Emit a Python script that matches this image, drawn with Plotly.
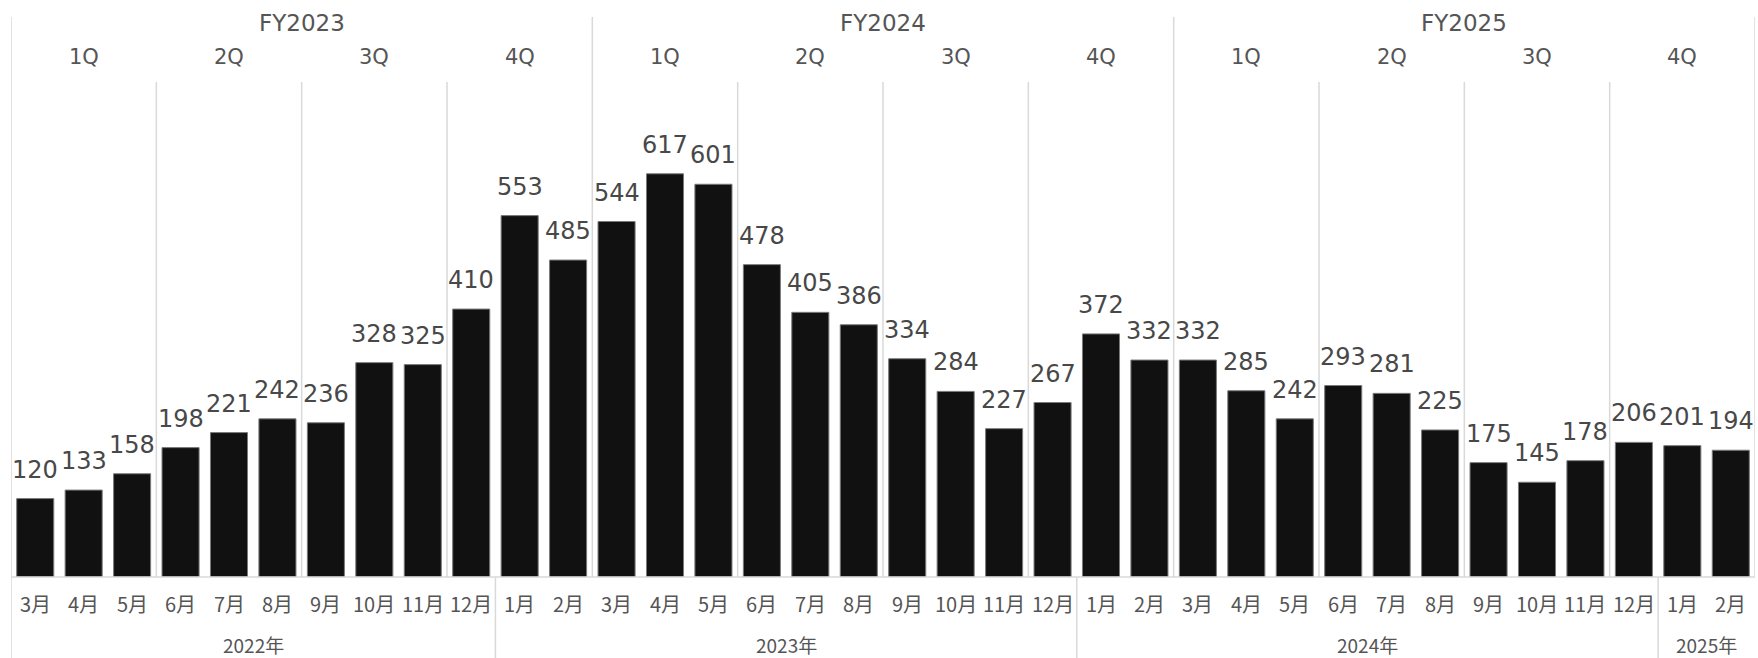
import plotly.graph_objects as go

# Monthly counts, March 2022 through February 2025
months = ["3月", "4月", "5月", "6月", "7月", "8月", "9月", "10月", "11月", "12月",
          "1月", "2月", "3月", "4月", "5月", "6月", "7月", "8月", "9月", "10月", "11月", "12月",
          "1月", "2月", "3月", "4月", "5月", "6月", "7月", "8月", "9月", "10月", "11月", "12月",
          "1月", "2月"]
values = [120, 133, 158, 198, 221, 242, 236, 328, 325, 410,
          553, 485, 544, 617, 601, 478, 405, 386, 334, 284, 227, 267,
          372, 332, 332, 285, 242, 293, 281, 225, 175, 145, 178, 206,
          201, 194]

# Calendar years: label and number of months in each
years = ["2022年", "2023年", "2024年", "2025年"]
year_counts = [10, 12, 12, 2]

# Fiscal years (starting in March) and their quarters
fiscal_years = ["FY2023", "FY2024", "FY2025"]
quarters = ["1Q", "2Q", "3Q", "4Q"]

W, H = 1758, 658
TOP, BOTTOM = 82, 81
plot_h = H - TOP - BOTTOM
axis_y = H - BOTTOM


def py(pixel_y):
    """Convert a page pixel row into paper y."""
    return (axis_y - pixel_y) / plot_h


x = list(range(len(values)))
n = len(values)

fig = go.Figure()
fig.add_trace(go.Bar(
    x=x, y=values,
    marker=dict(color="#111111", line=dict(color="#7a7a7a", width=1)),
    hoverinfo="x+y",
))

GRID = "#d9d9d9"
NUM_FONT = "DejaVu Sans, Noto Sans CJK JP, sans-serif"
JP_FONT = "Noto Sans CJK JP, sans-serif"
TEXT = "#555555"

shapes = []
annotations = []

# Quarter and fiscal-year separators across the plot and header
n_q = n // 3
for k in range(n_q + 1):
    xb = 3 * k - 0.5
    top = py(17) if k % 4 == 0 else 1.0
    shapes.append(dict(type="line", xref="x", yref="paper", x0=xb, x1=xb,
                       y0=0, y1=top, line=dict(color=GRID, width=1.5)))

# Fiscal-year titles and quarter titles
for i, fy in enumerate(fiscal_years):
    annotations.append(dict(x=12 * i + 5.5, y=py(23), xref="x", yref="paper",
                            text=fy, showarrow=False, yanchor="middle",
                            font=dict(family=NUM_FONT, size=23, color=TEXT)))
    for j, q in enumerate(quarters):
        annotations.append(dict(x=12 * i + 3 * j + 1, y=py(57), xref="x", yref="paper",
                                text=q, showarrow=False, yanchor="middle",
                                font=dict(family=NUM_FONT, size=21, color=TEXT)))

# Baseline under the bars
shapes.append(dict(type="line", xref="x", yref="paper", x0=-0.5, x1=n - 0.5,
                   y0=0, y1=0, line=dict(color=GRID, width=1.5)))

# Calendar-year separators and labels below the month labels
start = 0
for yr, cnt in zip(years, year_counts):
    xb = start - 0.5
    shapes.append(dict(type="line", xref="x", yref="paper", x0=xb, x1=xb,
                       y0=0, y1=py(H + 2), line=dict(color=GRID, width=1.5)))
    annotations.append(dict(x=start + (cnt - 1) / 2, y=py(644), xref="x", yref="paper",
                            text=yr, showarrow=False, yanchor="middle",
                            font=dict(family=JP_FONT, size=19, color=TEXT)))
    start += cnt

# Month labels
for i, m in enumerate(months):
    annotations.append(dict(x=i, y=py(603), xref="x", yref="paper",
                            text=m, showarrow=False, yanchor="middle",
                            font=dict(family=JP_FONT, size=20, color=TEXT)))

# Value labels above each bar
for i, v in enumerate(values):
    annotations.append(dict(x=i, y=v, xref="x", yref="y", text=str(v),
                            showarrow=False, yanchor="bottom", yshift=13,
                            font=dict(family=NUM_FONT, size=24, color="#484848")))

fig.update_layout(
    width=W, height=H,
    margin=dict(l=11, r=3, t=TOP, b=BOTTOM, pad=0),
    paper_bgcolor="white", plot_bgcolor="white",
    bargap=0.235,
    showlegend=False,
    shapes=shapes,
    annotations=annotations,
    xaxis=dict(range=[-0.5, n - 0.5], showgrid=False, zeroline=False,
               showticklabels=False, showline=False, fixedrange=True),
    yaxis=dict(range=[0, plot_h / 0.6535], showgrid=False, zeroline=False,
               showticklabels=False, showline=False, fixedrange=True),
)

fig.write_html("out.html")
